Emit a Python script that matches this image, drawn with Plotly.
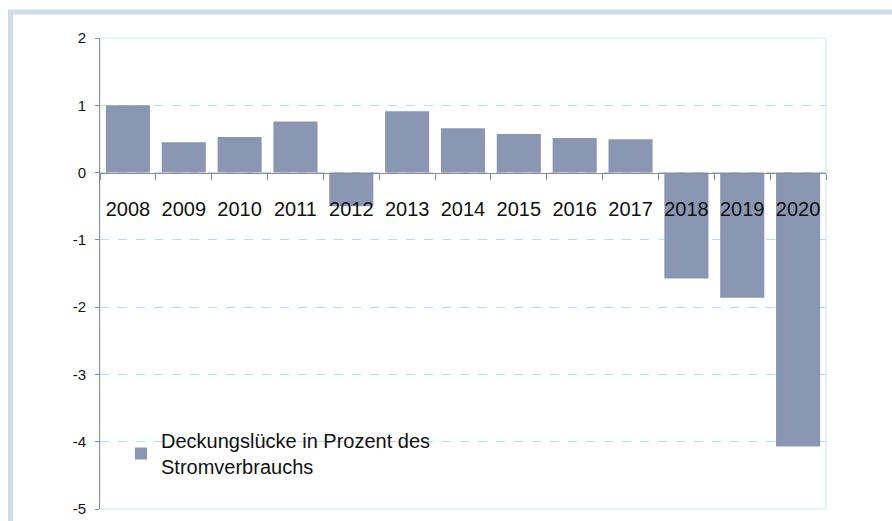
import plotly.graph_objects as go

years = ["2008", "2009", "2010", "2011", "2012", "2013", "2014",
         "2015", "2016", "2017", "2018", "2019", "2020"]
gap_pct = [1.0, 0.45, 0.53, 0.76, -0.50, 0.91, 0.66, 0.575, 0.515, 0.495, -1.575, -1.86, -4.07]
y_ticks = [2, 1, 0, -1, -2, -3, -4, -5]
y_tick_text = ["2", "1", "0", "-1", "-2", "-3", "-4", "-5"]
series_name = "Deckungslücke in Prozent des<br>Stromverbrauchs"

W, H = 892, 521
L, R, T, B = 100, 66, 38, 12
pw, ph = W - L - R, H - T - B

def px(x):
    return (x - L) / pw

def py(y):
    return (H - B - y) / ph

fig = go.Figure()
fig.add_trace(go.Bar(
    x=years, y=gap_pct, name=series_name,
    marker=dict(color="#8a97b3", line=dict(width=0)),
    showlegend=True,
))

shapes = [
    # outer light-blue frame (top and left bands)
    dict(type="rect", xref="paper", yref="paper",
         x0=px(10.5), x1=px(905), y0=py(12), y1=py(540),
         line=dict(color="#cfdde8", width=5), layer="below"),
    # plot area border
    dict(type="rect", xref="paper", yref="paper",
         x0=0, x1=1, y0=0, y1=1,
         line=dict(color="#cfe6f3", width=1), layer="below"),
]

fig.update_layout(
    template="none",
    width=W, height=H,
    margin=dict(l=L, r=R, t=T, b=B, autoexpand=False),
    paper_bgcolor="white", plot_bgcolor="white",
    font=dict(family="Liberation Sans, Arial, sans-serif", color="#111111"),
    bargap=0.21,
    shapes=shapes,
    showlegend=True,
    legend=dict(
        x=px(121), y=py(421), xanchor="left", yanchor="top",
        bgcolor="rgba(0,0,0,0)", font=dict(size=20, color="#111111"),
        itemsizing="constant", borderwidth=0,
    ),
    xaxis=dict(
        type="category", automargin=False,
        anchor="free", position=5 / 7,
        showline=True, linecolor="#8c8c8c", linewidth=1,
        ticks="outside", tickson="boundaries", ticklen=6, tickcolor="#8c8c8c",
        tickfont=dict(size=20, color="#111111"),
        ticklabelstandoff=18,
        showgrid=False, zeroline=False,
    ),
    yaxis=dict(
        range=[-5, 2], automargin=False,
        tickvals=y_ticks, ticktext=y_tick_text,
        tickfont=dict(size=15, color="#111111"),
        ticks="outside", ticklen=4, tickcolor="#8c8c8c",
        showline=True, linecolor="#8c8c8c", linewidth=1,
        showgrid=True, gridcolor="#b5dcf0", griddash="dash", gridwidth=1,
        zeroline=False,
        ticklabelstandoff=6,
    ),
)

fig.write_html(
    "out.html",
    config={"displayModeBar": False},
    post_script="document.body.style.margin='0';document.body.style.overflow='hidden';",
)
